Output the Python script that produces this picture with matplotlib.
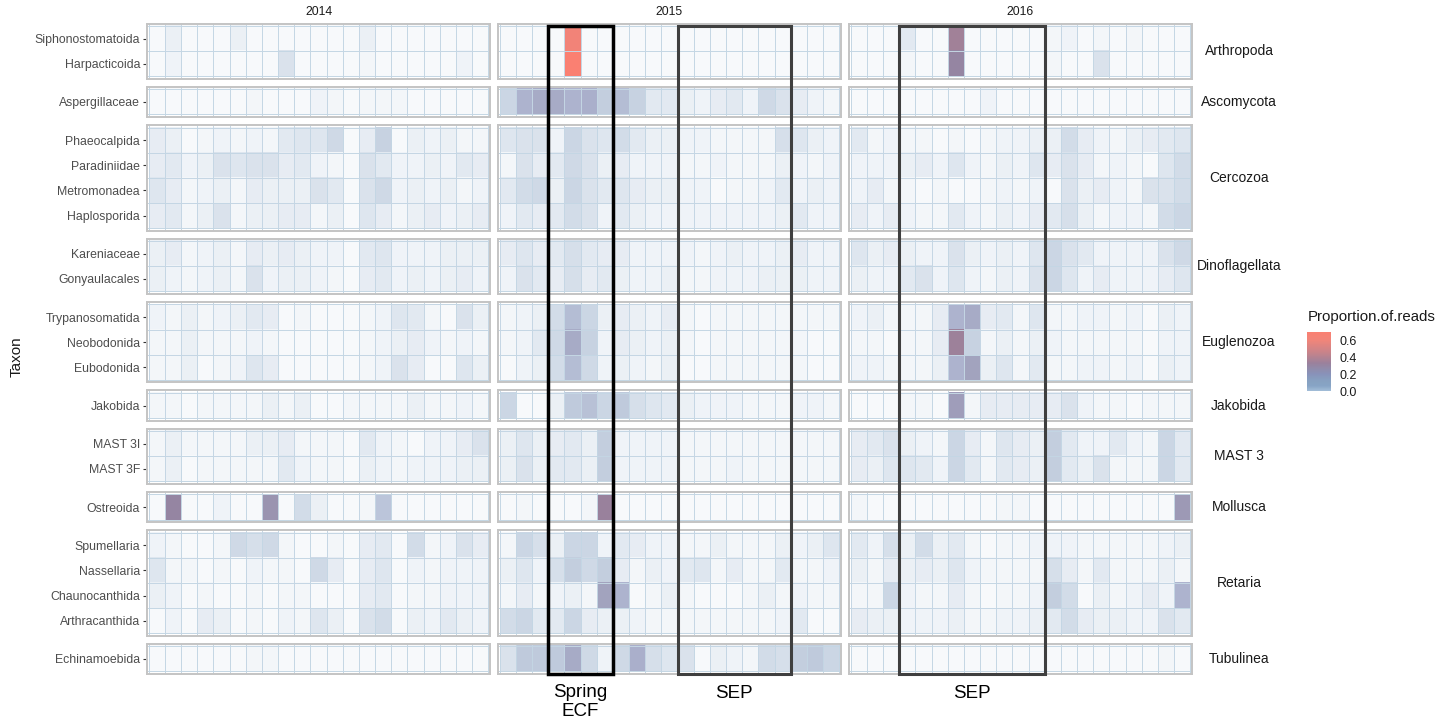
import numpy as np
import matplotlib
matplotlib.use("Agg")
import matplotlib.pyplot as plt
from matplotlib.colors import LinearSegmentedColormap, Normalize
from matplotlib.cm import ScalarMappable
from matplotlib.patches import Rectangle

plt.rcParams["font.family"] = ["Liberation Sans", "DejaVu Sans"]

years = ["2014", "2015", "2016"]

phyla = ["Arthropoda", "Ascomycota", "Cercozoa", "Dinoflagellata", "Euglenozoa",
         "Jakobida", "MAST 3", "Mollusca", "Retaria", "Tubulinea"]

taxa = [
    ["Siphonostomatoida", "Harpacticoida"],
    ["Aspergillaceae"],
    ["Phaeocalpida", "Paradiniidae", "Metromonadea", "Haplosporida"],
    ["Kareniaceae", "Gonyaulacales"],
    ["Trypanosomatida", "Neobodonida", "Eubodonida"],
    ["Jakobida"],
    ["MAST 3I", "MAST 3F"],
    ["Ostreoida"],
    ["Spumellaria", "Nassellaria", "Chaunocanthida", "Arthracanthida"],
    ["Echinamoebida"],
]

# percent of reads per taxon (rows, same order as taxa) and sample (columns)
pct_2014 = [
    [1, 4, 1, 1, 1, 4, 1, 1, 1, 1, 1, 1, 1, 4, 1, 1, 1, 1, 1, 1, 1],
    [1, 3, 1, 1, 1, 1, 1, 1, 8, 1, 1, 1, 1, 2, 1, 1, 1, 1, 1, 3, 1],
    [1, 1, 1, 1, 1, 1, 2, 1, 1, 1, 3, 2, 1, 2, 2, 2, 1, 1, 1, 1, 1],
    [5, 4, 1, 2, 3, 2, 3, 2, 6, 7, 7, 11, 1, 5, 13, 1, 4, 3, 4, 2, 2],
    [5, 6, 3, 4, 8, 7, 8, 8, 5, 6, 3, 2, 1, 8, 6, 3, 3, 4, 3, 6, 5],
    [7, 5, 2, 3, 4, 2, 5, 4, 4, 4, 8, 6, 1, 8, 11, 3, 4, 3, 4, 2, 3],
    [5, 6, 2, 4, 8, 2, 4, 4, 5, 5, 2, 4, 1, 7, 5, 2, 4, 5, 3, 4, 5],
    [4, 5, 2, 3, 4, 2, 5, 4, 5, 4, 3, 3, 1, 6, 7, 3, 3, 3, 4, 4, 4],
    [4, 3, 2, 3, 4, 2, 8, 3, 4, 4, 3, 2, 1, 5, 6, 3, 4, 3, 4, 5, 3],
    [3, 2, 4, 2, 3, 4, 6, 5, 1, 2, 1, 1, 1, 2, 3, 7, 6, 2, 1, 8, 4],
    [2, 2, 4, 2, 2, 2, 3, 2, 1, 1, 1, 1, 1, 2, 3, 4, 5, 3, 2, 3, 2],
    [2, 2, 4, 1, 2, 3, 7, 5, 1, 1, 1, 1, 1, 2, 3, 8, 5, 1, 1, 7, 4],
    [2, 2, 1, 2, 2, 2, 2, 4, 2, 4, 1, 1, 2, 2, 2, 2, 4, 2, 2, 3, 2],
    [2, 4, 2, 2, 2, 2, 4, 4, 5, 2, 2, 2, 1, 6, 3, 2, 1, 3, 3, 5, 8],
    [2, 4, 1, 2, 2, 2, 2, 2, 6, 3, 2, 2, 1, 4, 3, 2, 3, 3, 3, 4, 4],
    [1, 30, 1, 1, 3, 1, 1, 27, 1, 10, 4, 1, 1, 2, 16, 1, 1, 1, 1, 1, 1],
    [3, 2, 1, 1, 2, 11, 9, 11, 2, 1, 1, 2, 1, 5, 6, 1, 10, 2, 3, 8, 5],
    [7, 2, 2, 1, 2, 1, 3, 2, 2, 1, 11, 5, 1, 5, 7, 1, 3, 2, 3, 3, 3],
    [4, 3, 1, 2, 1, 1, 2, 1, 2, 2, 1, 1, 1, 5, 6, 1, 2, 2, 3, 3, 3],
    [1, 3, 1, 5, 4, 1, 2, 1, 3, 2, 7, 4, 1, 8, 10, 1, 4, 3, 6, 4, 3],
    [1, 1, 1, 1, 1, 1, 2, 2, 1, 1, 1, 1, 1, 1, 1, 1, 1, 1, 1, 1, 1],
]

pct_2015 = [
    [1, 1, 1, 1, 62, 1, 1, 1, 1, 1, 1, 1, 1, 1, 1, 1, 1, 1, 1, 1, 1],
    [1, 1, 1, 1, 70, 1, 1, 1, 1, 1, 1, 1, 1, 1, 1, 1, 1, 1, 1, 1, 1],
    [12, 20, 22, 22, 20, 21, 14, 18, 13, 6, 6, 4, 3, 5, 6, 3, 11, 8, 5, 3, 2],
    [7, 8, 8, 3, 12, 8, 7, 10, 6, 4, 4, 3, 3, 2, 2, 2, 2, 9, 7, 4, 3],
    [2, 8, 5, 6, 11, 8, 4, 5, 3, 3, 3, 2, 2, 3, 2, 2, 2, 4, 3, 2, 3],
    [6, 10, 11, 4, 12, 8, 6, 7, 5, 4, 4, 3, 3, 1, 2, 2, 3, 6, 3, 4, 3],
    [3, 6, 5, 6, 10, 8, 3, 6, 4, 3, 3, 3, 3, 3, 3, 3, 3, 4, 6, 3, 3],
    [5, 7, 5, 6, 9, 6, 5, 5, 3, 3, 3, 3, 2, 3, 4, 3, 3, 4, 5, 3, 3],
    [3, 8, 6, 5, 9, 5, 6, 4, 3, 3, 4, 2, 2, 3, 3, 3, 4, 4, 4, 3, 3],
    [2, 3, 4, 10, 18, 12, 4, 5, 4, 3, 5, 2, 1, 2, 2, 2, 2, 2, 2, 2, 2],
    [2, 3, 6, 11, 22, 13, 3, 5, 4, 3, 4, 2, 1, 2, 2, 2, 2, 2, 2, 1, 1],
    [1, 3, 4, 10, 18, 11, 3, 4, 3, 2, 4, 1, 1, 2, 2, 2, 2, 2, 2, 1, 1],
    [12, 1, 1, 4, 15, 17, 12, 15, 9, 7, 6, 4, 3, 3, 3, 2, 2, 2, 3, 3, 2],
    [4, 7, 4, 5, 6, 4, 14, 3, 3, 3, 3, 2, 2, 2, 2, 2, 2, 2, 2, 2, 2],
    [4, 8, 4, 6, 6, 4, 14, 3, 3, 3, 3, 2, 2, 2, 3, 2, 2, 2, 2, 2, 2],
    [1, 2, 1, 1, 1, 2, 33, 1, 1, 1, 1, 1, 1, 1, 1, 1, 1, 1, 1, 1, 1],
    [2, 12, 9, 4, 12, 12, 3, 6, 5, 3, 3, 2, 2, 4, 2, 2, 2, 4, 3, 4, 7],
    [4, 7, 3, 9, 14, 11, 14, 5, 2, 4, 3, 6, 7, 2, 5, 2, 2, 6, 2, 2, 3],
    [2, 5, 2, 3, 4, 2, 24, 20, 1, 2, 4, 2, 1, 1, 1, 2, 4, 2, 3, 2, 2],
    [10, 12, 6, 6, 12, 5, 4, 4, 3, 2, 2, 2, 2, 2, 2, 2, 2, 3, 6, 1, 1],
    [8, 15, 15, 15, 22, 11, 3, 11, 21, 9, 7, 8, 1, 4, 3, 2, 10, 9, 14, 15, 12],
]

pct_2016 = [
    [1, 1, 1, 6, 1, 1, 35, 1, 1, 1, 1, 1, 2, 3, 1, 2, 1, 2, 1, 1, 1],
    [1, 1, 1, 2, 1, 1, 30, 1, 1, 1, 1, 1, 2, 1, 1, 8, 1, 1, 1, 1, 1],
    [1, 1, 1, 1, 1, 1, 1, 1, 3, 1, 1, 1, 1, 1, 1, 1, 1, 1, 1, 1, 1],
    [6, 2, 3, 2, 2, 1, 2, 1, 2, 3, 3, 4, 4, 10, 5, 3, 2, 4, 5, 6, 7],
    [3, 3, 3, 4, 5, 3, 7, 3, 2, 4, 3, 7, 5, 8, 5, 2, 3, 2, 1, 7, 10],
    [3, 5, 2, 2, 1, 2, 1, 1, 2, 3, 2, 3, 1, 8, 4, 5, 3, 2, 8, 8, 10],
    [5, 3, 5, 3, 2, 2, 6, 3, 2, 4, 3, 5, 6, 9, 4, 2, 3, 3, 2, 10, 12],
    [7, 4, 5, 4, 3, 3, 8, 4, 3, 4, 3, 7, 12, 8, 6, 3, 3, 3, 3, 8, 11],
    [4, 3, 3, 6, 8, 3, 7, 3, 2, 4, 3, 8, 12, 7, 3, 5, 3, 3, 3, 5, 7],
    [3, 4, 2, 2, 2, 5, 20, 22, 5, 6, 2, 7, 2, 2, 3, 3, 2, 3, 1, 4, 3],
    [2, 2, 1, 2, 2, 5, 34, 13, 2, 4, 2, 4, 3, 2, 2, 2, 2, 2, 1, 3, 3],
    [3, 3, 2, 2, 2, 4, 20, 24, 4, 7, 2, 6, 2, 2, 3, 3, 2, 3, 1, 4, 3],
    [1, 1, 1, 2, 2, 1, 25, 2, 5, 5, 5, 5, 5, 8, 3, 2, 2, 1, 2, 2, 2],
    [5, 6, 8, 4, 3, 2, 12, 5, 2, 7, 5, 4, 14, 6, 3, 3, 6, 3, 2, 12, 6],
    [5, 4, 7, 7, 6, 3, 12, 6, 2, 6, 5, 4, 14, 6, 4, 8, 2, 2, 2, 12, 6],
    [2, 1, 1, 1, 1, 1, 1, 1, 1, 2, 2, 1, 1, 1, 1, 1, 1, 1, 1, 1, 26],
    [6, 3, 9, 4, 10, 4, 6, 2, 1, 2, 2, 3, 3, 3, 2, 2, 2, 2, 2, 3, 4],
    [4, 2, 5, 4, 5, 4, 7, 3, 2, 2, 2, 2, 9, 5, 2, 6, 2, 2, 2, 4, 2],
    [2, 2, 12, 3, 2, 2, 5, 2, 1, 2, 2, 3, 14, 10, 1, 4, 2, 3, 5, 3, 20],
    [5, 4, 4, 3, 3, 3, 4, 2, 2, 3, 3, 4, 6, 10, 5, 4, 4, 3, 3, 8, 6],
    [1, 1, 1, 1, 1, 1, 1, 1, 1, 1, 1, 1, 1, 1, 1, 1, 1, 1, 1, 2, 1],
]

# sampling windows drawn as boxes: (label, year, first sample, last sample)
windows = [
    ("Spring\nECF", "2015", 3, 6),
    ("SEP", "2015", 11, 17),
    ("SEP", "2016", 3, 11),
]

props = {y: np.array(p) / 100.0 for y, p in zip(years, [pct_2014, pct_2015, pct_2016])}
n_samples = props["2014"].shape[1]

vmax = 0.70
norm = Normalize(0, vmax)
cmap = LinearSegmentedColormap.from_list("reads", [
    (0.0, "#a3bdd8"), (0.086, "#87a4c5"), (0.171, "#87a1c1"), (0.286, "#8892b9"),
    (0.371, "#908cac"), (0.471, "#9a819c"), (0.643, "#c5838b"), (0.857, "#f0857a"),
    (1.0, "#fa8072"),
])


def tile_alpha(v):
    return np.clip(0.05 + 3.2 * v, 0, 1)


W, H = 1455, 725
fig = plt.figure(figsize=(W / 100, H / 100), dpi=100)


def add_px_axes(x, y, w, h):
    return fig.add_axes([x / W, 1 - (y + h) / H, w / W, h / H])


panel_x = [147, 498, 849]
panel_w = 343
top, unit, gap = 23.5, 25.15, 8

axes = []
y = top
row0 = 0
for g, (phylum, names) in enumerate(zip(phyla, taxa)):
    n = len(names)
    h = (n + 0.2) * unit
    row_axes = []
    for j, year in enumerate(years):
        ax = add_px_axes(panel_x[j], y, panel_w, h)
        vals = props[year][row0:row0 + n]
        rgba = cmap(norm(vals))
        rgba[..., 3] = tile_alpha(vals)
        ax.imshow(rgba, extent=(-0.5, n_samples - 0.5, n - 0.5, -0.5),
                  interpolation="nearest", aspect="auto")
        for k in range(n + 1):
            ax.axhline(k - 0.5, color="#c4d6e4", lw=0.7)
        for k in range(n_samples + 1):
            ax.axvline(k - 0.5, color="#c4d6e4", lw=0.7)
        ax.set_xlim(-0.6, n_samples - 0.4)
        ax.set_ylim(n - 0.4, -0.6)
        ax.set_xticks([])
        for s in ax.spines.values():
            s.set_color("#c4c4c4")
            s.set_linewidth(1.4)
        if j == 0:
            ax.set_yticks(range(n))
            ax.set_yticklabels(names)
            ax.tick_params(axis="y", length=3, width=0.8, color="#333333",
                           labelcolor="#4d4d4d", labelsize=8.8, pad=2)
        else:
            ax.set_yticks([])
        if g == 0:
            fig.text((panel_x[j] + panel_w / 2) / W, 1 - 12 / H, year,
                     ha="center", va="center", fontsize=8.8, color="#1a1a1a")
        row_axes.append(ax)
    fig.text(1239 / W, 1 - (y + h / 2) / H, phylum, ha="center", va="center",
             fontsize=10, color="#1a1a1a")
    axes.append(row_axes)
    y += h + gap
    row0 += n

fig.text(17 / W, 1 - 357 / H, "Taxon", rotation=90, ha="center", va="center",
         fontsize=11, color="#1a1a1a")

# boxes around the sampling windows, spanning all taxa
to_fig = fig.transFigure.inverted()
n_last = len(taxa[-1])
for label, year, c0, c1 in windows:
    j = years.index(year)
    ax_top, ax_bot = axes[0][j], axes[-1][j]
    x0, y1 = to_fig.transform(ax_top.transData.transform((c0 - 0.5, -0.5)))
    x1, _ = to_fig.transform(ax_top.transData.transform((c1 + 0.5, -0.5)))
    _, y0 = to_fig.transform(ax_bot.transData.transform((0, n_last - 0.4)))
    spring = label.startswith("Spring")
    fig.add_artist(Rectangle((x0, y0), x1 - x0, y1 - y0, transform=fig.transFigure,
                             fill=False, edgecolor="black" if spring else "#3f3f3f",
                             lw=2.5 if spring else 2.2, zorder=5))
    fig.text((x0 + x1) / 2, 1 - (684 if spring else 685) / H, label,
             ha="center", va="top", fontsize=13.5, linespacing=1.12, color="black")

# colour legend
fig.text(1308 / W, 1 - 317 / H, "Proportion.of.reads", ha="left", va="center",
         fontsize=10.8, color="#1a1a1a")
cax = add_px_axes(1307, 332, 24, 59)
cb = fig.colorbar(ScalarMappable(norm=norm, cmap=cmap), cax=cax)
cb.set_ticks([0.0, 0.2, 0.4, 0.6])
cb.set_ticklabels(["0.0", "0.2", "0.4", "0.6"])
cb.outline.set_visible(False)
cax.tick_params(length=0, labelsize=9, pad=6, labelcolor="#1a1a1a")

fig.savefig("out.png", dpi=100)
